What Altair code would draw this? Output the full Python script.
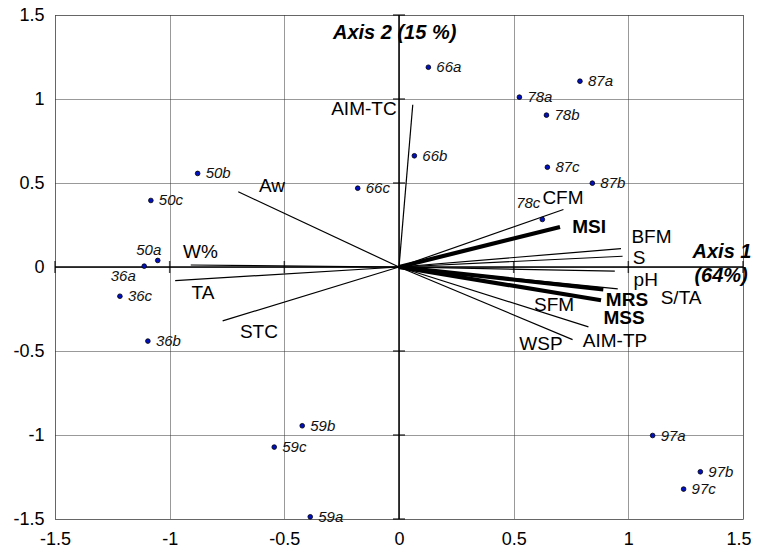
import altair as alt
import pandas as pd

# ---- sample scores (individuals) ----
point_names = ["50b", "50c", "50a", "36a", "36c", "36b", "66c", "66a", "66b",
               "78a", "78b", "78c", "87a", "87b", "87c", "59a", "59b", "59c",
               "97a", "97b", "97c"]
point_x = [-0.878, -1.082, -1.052, -1.111, -1.217, -1.095, -0.180, 0.128, 0.067,
           0.525, 0.643, 0.625, 0.789, 0.843, 0.647, -0.387, -0.422, -0.544,
           1.106, 1.314, 1.241]
point_y = [0.557, 0.396, 0.039, 0.005, -0.174, -0.441, 0.469, 1.189, 0.662,
           1.011, 0.904, 0.283, 1.106, 0.499, 0.594, -1.487, -0.945, -1.072,
           -1.003, -1.219, -1.322]

# ---- variable loadings (vectors from the origin) ----
var_names = ["AIM-TC", "Aw", "W%", "TA", "STC", "CFM", "MSI", "BFM", "S", "pH",
             "S/TA", "MRS", "MSS", "AIM-TP", "WSP"]
var_x = [0.060, -0.701, -0.908, -0.976, -0.769, 0.717, 0.702, 0.968, 0.975, 0.941,
         0.954, 0.891, 0.881, 0.826, 0.757]
var_y = [0.966, 0.448, 0.012, -0.081, -0.321, 0.342, 0.238, 0.109, 0.064, -0.025,
         -0.130, -0.134, -0.198, -0.356, -0.432]
bold_vars = ["MSI", "MRS", "MSS"]

# ---- variable label anchors ----
lab_names = ["AIM-TC", "Aw", "W%", "TA", "STC", "CFM", "MSI", "BFM", "S", "pH",
             "S/TA", "MRS", "MSS", "SFM", "WSP", "AIM-TP"]
lab_x = [-0.153, -0.554, -0.866, -0.855, -0.611, 0.715, 0.829, 1.101, 1.047, 1.076,
         1.230, 0.994, 0.981, 0.676, 0.619, 0.942]
lab_y = [0.943, 0.481, 0.088, -0.156, -0.384, 0.408, 0.237, 0.177, 0.052, -0.075,
         -0.183, -0.198, -0.302, -0.226, -0.461, -0.443]

# ---- axis annotations ----
axis_text = ["Axis 2 (15 %)", "Axis 1", "(64%)"]
axis_text_x = [-0.288, 1.280, 1.288]
axis_text_y = [1.390, 0.092, -0.051]

tick_values = [-1.5, -1.0, -0.5, 0.0, 0.5, 1.0, 1.5]
axis_marks = [-1.5, -1.0, -0.5, 0.5, 1.0, 1.5]

FONT = "Liberation Sans"

pts = pd.DataFrame({"name": point_names, "x": point_x, "y": point_y})
vecs = pd.DataFrame({"name": var_names, "x": var_x, "y": var_y})
vecs["x0"] = 0.0
vecs["y0"] = 0.0
vecs["bold"] = vecs["name"].isin(bold_vars)
labs = pd.DataFrame({"name": lab_names, "x": lab_x, "y": lab_y})
labs["bold"] = labs["name"].isin(bold_vars)
axt = pd.DataFrame({"t": axis_text, "x": axis_text_x, "y": axis_text_y})
marks = pd.DataFrame({"v": axis_marks})
zero = pd.DataFrame({"v": [0.0]})

xs = alt.Scale(domain=[-1.5, 1.5], nice=False, zero=False)
ys = alt.Scale(domain=[-1.5, 1.5], nice=False, zero=False)

xaxis = alt.Axis(values=tick_values, title=None, grid=True, ticks=False, tickSize=0,
                 domain=False, labelExpr="datum.value + ''", labelFont=FONT,
                 labelFontSize=18, labelColor="black", labelPadding=11,
                 labelFlush=False, gridColor="#333", gridDash=[1, 1], gridWidth=1,
                 labelAlign=alt.condition("datum.value == 1.5", alt.value("right"),
                                          alt.value("center")),
                 labelOffset=alt.condition("datum.value == 1.5", alt.value(8),
                                           alt.value(0)))
yaxis = alt.Axis(values=tick_values, title=None, grid=True, ticks=False, tickSize=0,
                 domain=False, labelExpr="datum.value + ''", labelFont=FONT,
                 labelFontSize=18, labelColor="black", labelPadding=11,
                 labelFlush=False, gridColor="#333", gridDash=[1, 1], gridWidth=1)

base_axes = alt.Chart(zero).mark_rule(color="black", strokeWidth=1.5).encode(
    x=alt.X("v:Q", scale=xs, axis=xaxis)
)
hline = alt.Chart(zero).mark_rule(color="black", strokeWidth=1.5).encode(
    y=alt.Y("v:Q", scale=ys, axis=yaxis)
)

xticks = alt.Chart(marks).mark_tick(orient="vertical", color="black", size=12,
                                    thickness=1.5).encode(
    x=alt.X("v:Q", scale=xs), y=alt.datum(0)
)
yticks = alt.Chart(marks).mark_tick(orient="horizontal", color="black", size=12,
                                    thickness=1.5).encode(
    y=alt.Y("v:Q", scale=ys), x=alt.datum(0)
)

lines = alt.Chart(vecs).mark_rule(color="black").encode(
    x=alt.X("x0:Q", scale=xs), y=alt.Y("y0:Q", scale=ys),
    x2="x:Q", y2="y:Q",
    strokeWidth=alt.condition("datum.bold", alt.value(4.2), alt.value(1.2)),
)

var_text_plain = alt.Chart(labs).transform_filter("!datum.bold").mark_text(
    font=FONT, fontSize=19, color="black", align="center", baseline="middle"
).encode(x=alt.X("x:Q", scale=xs), y=alt.Y("y:Q", scale=ys), text="name:N")
var_text_bold = alt.Chart(labs).transform_filter("datum.bold").mark_text(
    font=FONT, fontSize=19, fontWeight="bold", color="black", align="center",
    baseline="middle"
).encode(x=alt.X("x:Q", scale=xs), y=alt.Y("y:Q", scale=ys), text="name:N")

dots = alt.Chart(pts).mark_point(filled=True, shape="circle", size=22,
                                 fill="#0010c0", stroke="black", strokeWidth=0.8,
                                 opacity=1).encode(
    x=alt.X("x:Q", scale=xs), y=alt.Y("y:Q", scale=ys)
)

ptxt_common = dict(font=FONT, fontSize=15, fontStyle="italic", color="#111",
                   baseline="middle")
ptxt_right = alt.Chart(pts).transform_filter(
    "datum.name != '50a' && datum.name != '36a' && datum.name != '78c'"
).mark_text(align="left", dx=8, **ptxt_common).encode(
    x=alt.X("x:Q", scale=xs), y=alt.Y("y:Q", scale=ys), text="name:N")
ptxt_50a = alt.Chart(pts).transform_filter("datum.name == '50a'").mark_text(
    align="center", dx=-9, dy=-10, **ptxt_common).encode(
    x=alt.X("x:Q", scale=xs), y=alt.Y("y:Q", scale=ys), text="name:N")
ptxt_36a = alt.Chart(pts).transform_filter("datum.name == '36a'").mark_text(
    align="center", dx=-21, dy=10, **ptxt_common).encode(
    x=alt.X("x:Q", scale=xs), y=alt.Y("y:Q", scale=ys), text="name:N")
ptxt_78c = alt.Chart(pts).transform_filter("datum.name == '78c'").mark_text(
    align="right", dx=-2, dy=-16, **ptxt_common).encode(
    x=alt.X("x:Q", scale=xs), y=alt.Y("y:Q", scale=ys), text="name:N")

axis_titles = alt.Chart(axt).mark_text(
    font=FONT, fontSize=20, fontWeight="bold", fontStyle="italic", color="black",
    align="left", baseline="middle"
).encode(x=alt.X("x:Q", scale=xs), y=alt.Y("y:Q", scale=ys), text="t:N")

chart = alt.layer(
    base_axes, hline, xticks, yticks, lines, var_text_plain, var_text_bold,
    dots, ptxt_right, ptxt_50a, ptxt_36a, ptxt_78c, axis_titles
).properties(
    width=688, height=504,
    autosize=alt.AutoSizeParams(type="none"),
    padding={"left": 47, "top": 7, "right": 8, "bottom": 27},
    background="white",
).configure_view(
    stroke="#333", strokeDash=[1, 1], strokeWidth=1
)

chart.save("out.html", embed_options={"renderer": "svg", "actions": False})
